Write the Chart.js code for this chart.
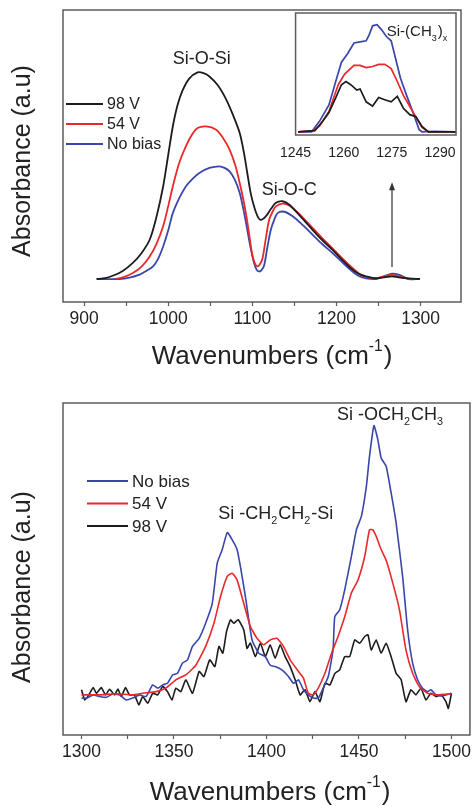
<!DOCTYPE html>
<html>
  <head>
    <title>FTIR spectra</title>
    <script src="https://cdn.jsdelivr.net/npm/chart.js"></script>
    <style>
      body { margin: 0; background: #fff; }
      #wrap { position: relative; width: 474px; height: 806px; }
      canvas { position: absolute; }
    </style>
  </head>
  <body>
    <div id="wrap">
      <canvas id="topChart" width="474" height="380" style="left:0;top:0"></canvas>
      <canvas id="insetChart" width="200" height="170" style="left:270px;top:0"></canvas>
      <canvas id="bottomChart" width="474" height="416" style="left:0;top:390px"></canvas>
    </div>

    <script>
      // ---- data: [wavenumber, absorbance (a.u)] ----
      const seriesNames = ["98 V", "54 V", "No bias"];
      const seriesColors = ["#1c1c1c", "#e8292b", "#3a46ab"];

      // top panel, 900-1300 cm-1
      const top98V = [[915,0],[925,0.003],[934,0.012],[946,0.03],[958,0.06],[968,0.095],[978,0.146],[986,0.23],[994,0.344],[1000,0.46],[1005.5,0.567],[1011,0.645],[1017,0.7],[1025,0.745],[1035,0.768],[1042,0.765],[1049,0.753],[1059,0.72],[1069,0.667],[1077,0.61],[1085,0.543],[1090,0.47],[1094,0.394],[1098,0.32],[1102,0.27],[1106,0.235],[1110,0.22],[1116,0.233],[1122,0.26],[1128,0.283],[1136,0.289],[1144,0.276],[1158,0.23],[1171.5,0.183],[1183,0.145],[1195,0.109],[1207,0.07],[1219,0.035],[1228,0.017],[1235,0.01],[1247,0.0025],[1258,0.007],[1266,0.01],[1274,0.006],[1286,0.002],[1299,0]];
      const top54V = [[938,0],[948,0.008],[958,0.022],[968,0.045],[978,0.084],[986,0.13],[994,0.196],[1000,0.27],[1005.5,0.344],[1013,0.43],[1021,0.493],[1028,0.535],[1035,0.561],[1045,0.567],[1057,0.555],[1065,0.525],[1073,0.481],[1080,0.42],[1085,0.357],[1089,0.3],[1093,0.233],[1097,0.15],[1100,0.09],[1103,0.058],[1106,0.047],[1109,0.055],[1112,0.075],[1116,0.15],[1120,0.22],[1124,0.25],[1128,0.27],[1136,0.28],[1144,0.273],[1158,0.235],[1171.5,0.19],[1183,0.152],[1195,0.115],[1207,0.077],[1219,0.041],[1226,0.022],[1231,0.012],[1247,0.003],[1258,0.012],[1266,0.015],[1274,0.01],[1286,0],[1299,0]];
      const topNoBias = [[915,0],[942,0],[954,0.005],[966,0.016],[974,0.03],[982,0.047],[988,0.075],[994,0.121],[1000,0.18],[1005.5,0.245],[1013,0.3],[1021,0.344],[1029,0.372],[1037,0.394],[1049,0.413],[1061,0.419],[1067,0.413],[1073,0.4],[1079,0.37],[1085,0.32],[1090,0.25],[1094,0.183],[1098,0.115],[1102,0.06],[1105,0.035],[1108,0.028],[1111,0.033],[1114,0.05],[1118,0.12],[1122,0.183],[1126,0.22],[1130,0.245],[1138,0.25],[1148,0.233],[1160,0.2],[1171.5,0.165],[1183,0.13],[1195,0.097],[1207,0.062],[1219,0.028],[1227,0.01],[1235,0.002],[1247,0],[1258,0.012],[1266,0.02],[1274,0.016],[1286,0],[1299,0]];
      const topTicks = [900, 950, 1000, 1050, 1100, 1150, 1200, 1250, 1300];

      // inset, Si-(CH3)x band
      const inset98V = [[1245.8,0],[1251,0.01],[1253.5,0.1],[1255.4,0.18],[1257.4,0.31],[1259.3,0.44],[1260.7,0.47],[1262.2,0.44],[1264.1,0.39],[1265.1,0.4],[1267,0.28],[1269,0.24],[1270.9,0.32],[1272.8,0.3],[1274.8,0.28],[1276.7,0.33],[1278.6,0.22],[1280.6,0.16],[1282.5,0.14],[1284.4,0.05],[1286.4,0],[1294.9,0]];
      const inset54V = [[1245.8,0],[1250.6,0.01],[1252.5,0.055],[1255.4,0.19],[1258.3,0.44],[1260.3,0.54],[1263.2,0.62],[1265.1,0.62],[1267,0.6],[1269,0.61],[1270.9,0.63],[1272.8,0.63],[1274.8,0.59],[1276.7,0.47],[1278.6,0.34],[1281.5,0.19],[1284.4,0.04],[1286.4,0],[1294.9,0]];
      const insetNoBias = [[1245.8,0],[1250,0],[1252.5,0.1],[1255.4,0.25],[1257.9,0.51],[1259.3,0.65],[1261.2,0.73],[1263.2,0.83],[1265.1,0.84],[1267,0.85],[1268,0.91],[1269,0.99],[1270.4,1],[1271.9,0.95],[1273.3,0.89],[1274.8,0.85],[1276.2,0.68],[1277.7,0.5],[1279.6,0.34],[1281.5,0.19],[1283.5,0.02],[1284.4,0],[1288.3,0.005],[1294.9,0]];
      const insetTicks = [1245, 1260, 1275, 1290];

      // bottom panel, 1300-1500 cm-1
      const bottomNoBias = [[1300,-0.012],[1302.7,-0.012],[1306.3,0],[1309.8,-0.006],[1313.4,-0.009],[1317,0.004],[1320.6,0],[1324.2,-0.019],[1327.7,-0.012],[1331.3,0],[1334.9,-0.006],[1338.5,0.037],[1341.2,0.025],[1343.9,0.037],[1346.5,0.043],[1349.2,0.074],[1351.9,0.08],[1354.6,0.118],[1357.3,0.13],[1360,0.18],[1363.6,0.21],[1367.1,0.266],[1370.7,0.34],[1373.4,0.49],[1376.1,0.54],[1378.8,0.603],[1381.5,0.576],[1384.1,0.54],[1385.9,0.477],[1388.6,0.366],[1392.2,0.204],[1395.8,0.155],[1399.4,0.142],[1402,0.11],[1404.7,0.105],[1408.3,0.093],[1411.9,0.068],[1414.6,0.043],[1417.3,0.056],[1420,0.019],[1422.6,0],[1425.3,-0.012],[1428,-0.012],[1430.7,0.025],[1433.4,0.068],[1436,0.167],[1436.9,0.29],[1439.6,0.316],[1442.3,0.39],[1445.9,0.514],[1448.6,0.613],[1451.3,0.663],[1454,0.774],[1455.7,0.886],[1458.1,1],[1460.2,0.948],[1462,0.88],[1464.7,0.849],[1467.4,0.75],[1470.1,0.638],[1473.6,0.44],[1476.3,0.242],[1479,0.118],[1481.7,0.056],[1484.4,0.025],[1487.1,0.012],[1488.9,0.019],[1491.6,0],[1494.3,-0.004],[1497,0],[1500,0.006]];
      const bottom54V = [[1300,0],[1309.8,0],[1318.8,0.004],[1327.7,0],[1333.1,0.006],[1340.3,0.012],[1345.6,0.025],[1351,0.056],[1356.4,0.074],[1361.8,0.11],[1367.1,0.18],[1371.6,0.266],[1375.2,0.366],[1378.8,0.44],[1381.5,0.452],[1384.1,0.427],[1387.7,0.34],[1391.3,0.254],[1394.9,0.21],[1398.5,0.186],[1402,0.204],[1405.6,0.21],[1409.2,0.18],[1412.8,0.13],[1417.3,0.087],[1420,0.062],[1422.6,0.006],[1425.3,0],[1428,0.025],[1431.6,0.08],[1435.2,0.155],[1438.7,0.217],[1442.3,0.29],[1445.9,0.378],[1449.5,0.427],[1453.1,0.514],[1455.7,0.613],[1457.5,0.613],[1459.3,0.589],[1462,0.54],[1464.7,0.5],[1468.3,0.415],[1471.9,0.316],[1475.4,0.167],[1479,0.08],[1482.6,0.031],[1487.1,0.006],[1492.5,0],[1500,0.004]];
      const bottom98V = [[1300,0.019],[1301.8,-0.019],[1304,0],[1306.3,0.027],[1308.1,0.006],[1310.7,0.027],[1313,0],[1315.2,0.021],[1317.9,0],[1319.7,0.022],[1321.5,-0.006],[1323.8,0.027],[1325.9,0],[1328.6,0],[1331,-0.037],[1333.1,-0.006],[1335.8,-0.031],[1338.5,0.006],[1341.2,0],[1343.9,0.031],[1346.5,0.012],[1348.9,-0.019],[1351,0.025],[1353.7,0.012],[1356.4,0.056],[1360,0.006],[1363.6,0.087],[1366.2,0.068],[1369.3,0.13],[1372.1,0.105],[1374.3,0.18],[1376.4,0.155],[1378.4,0.235],[1380.6,0.279],[1382.3,0.266],[1384.7,0.279],[1387.7,0.242],[1389.5,0.173],[1391.3,0.192],[1394,0.142],[1396.7,0.192],[1399.4,0.142],[1402,0.186],[1404.7,0.136],[1407.4,0.186],[1410.1,0.142],[1412.8,0.105],[1415.5,0.056],[1418.2,0],[1420.8,0.019],[1423.5,-0.025],[1426.2,0.012],[1428.9,-0.025],[1431.6,0.043],[1434.3,0.037],[1437,0.08],[1439.6,0.093],[1442.3,0.142],[1445,0.142],[1447.7,0.204],[1450.4,0.192],[1453.1,0.217],[1454.9,0.223],[1456.6,0.167],[1459.3,0.204],[1462,0.155],[1464.7,0.192],[1467.4,0.142],[1470.1,0.08],[1472.8,0.056],[1475.4,-0.025],[1478.1,0.019],[1480.8,0],[1483.5,0.025],[1486.2,-0.019],[1488.9,0.006],[1491.6,-0.006],[1494.3,0],[1497,-0.025],[1498.3,-0.05],[1500,0.006]];
      const bottomTicks = [1300, 1325, 1350, 1375, 1400, 1425, 1450, 1475, 1500];

      // band labels, placed in data units
      const topNotes = [
        { x: 1040, y: 0.818, text: ["Si-O-Si"] },
        { x: 1144, y: 0.331, text: ["Si-O-C"] },
      ];
      const insetNotes = [{ x: 1283, y: 0.93, text: ["Si-(CH", "_3", ")", "_x"] }];
      const bottomNotes = [
        { x: 1467, y: 1.04, text: ["Si -OCH", "_2", "CH", "_3"] },
        { x: 1405, y: 0.673, text: ["Si -CH", "_2", "CH", "_2", "-Si"] },
      ];
      const arrowAt = { x: 1266, from: 0.045, to: 0.36 };

      const FONT = '"Liberation Sans", Arial, sans-serif';
      const INK = "#222";

      // text with _sub / ^sup pieces, centred on (cx, cy)
      function richText(ctx, parts, cx, cy, size) {
        const pieces = parts.map((p) => {
          const kind = p[0] === "_" ? 1 : p[0] === "^" ? -1 : 0;
          const t = kind ? p.slice(1) : p;
          const s = kind ? size * 0.6 : size;
          ctx.font = s + "px " + FONT;
          return { t, s, kind, w: ctx.measureText(t).width + (kind ? 1 : 0) };
        });
        let x = cx - pieces.reduce((a, p) => a + p.w, 0) / 2;
        ctx.textAlign = "left";
        ctx.textBaseline = "middle";
        pieces.forEach((p) => {
          ctx.font = p.s + "px " + FONT;
          ctx.fillText(p.t, x, cy + p.kind * size * 0.4);
          x += p.w;
        });
      }

      function decor(cfg) {
        return {
          id: "decor",
          beforeDraw(chart) {
            if (!cfg.fill) return;
            const a = chart.chartArea;
            chart.ctx.fillStyle = "#fff";
            chart.ctx.fillRect(a.left, a.top, a.right - a.left, a.bottom - a.top);
          },
          afterDraw(chart) {
            const { ctx, chartArea: a } = chart;
            const x = chart.scales.x, y = chart.scales.y;
            ctx.save();
            ctx.strokeStyle = "#5c5c5c";
            ctx.lineWidth = 1.5;
            ctx.strokeRect(a.left, a.top, a.right - a.left, a.bottom - a.top);
            ctx.fillStyle = INK;
            (cfg.notes || []).forEach((n) =>
              richText(ctx, n.text, x.getPixelForValue(n.x), y.getPixelForValue(n.y), cfg.noteSize)
            );
            if (cfg.legend) {
              const L = cfg.legend;
              L.order.forEach((i, k) => {
                const ly = a.top + L.dy + k * L.gap;
                ctx.strokeStyle = seriesColors[i];
                ctx.lineWidth = 1.8;
                ctx.beginPath();
                ctx.moveTo(a.left + L.dx, ly);
                ctx.lineTo(a.left + L.dx + L.len, ly);
                ctx.stroke();
                ctx.fillStyle = INK;
                ctx.font = L.size + "px " + FONT;
                ctx.textAlign = "left";
                ctx.textBaseline = "middle";
                ctx.fillText(seriesNames[i], a.left + L.dx + L.len + 4, ly + 1);
              });
            }
            if (cfg.arrow) {
              const ax = x.getPixelForValue(cfg.arrow.x);
              const y0 = y.getPixelForValue(cfg.arrow.from);
              const y1 = y.getPixelForValue(cfg.arrow.to);
              ctx.strokeStyle = "#333";
              ctx.fillStyle = "#333";
              ctx.lineWidth = 1.2;
              ctx.beginPath();
              ctx.moveTo(ax, y0);
              ctx.lineTo(ax, y1 + 6);
              ctx.stroke();
              ctx.beginPath();
              ctx.moveTo(ax, y1);
              ctx.lineTo(ax - 3, y1 + 8);
              ctx.lineTo(ax + 3, y1 + 8);
              ctx.closePath();
              ctx.fill();
            }
            if (cfg.titles) {
              const T = cfg.titles;
              ctx.fillStyle = INK;
              richText(ctx, ["Wavenumbers (cm", "^-1", ")"], T.xTitle[0], T.xTitle[1], 26);
              ctx.save();
              ctx.translate(T.yTitle[0], T.yTitle[1]);
              ctx.rotate(-Math.PI / 2);
              richText(ctx, ["Absorbance (a.u)"], 0, 0, 25);
              ctx.restore();
            }
            ctx.restore();
          },
        };
      }

      function lines(sets, width, tension) {
        return sets.map(([data, i]) => ({
          label: seriesNames[i],
          data: data,
          borderColor: seriesColors[i],
          borderWidth: width,
          pointRadius: 0,
          tension: tension,
          fill: false,
        }));
      }

      function xAxis(min, max, tickValues, labelStep, size, pad, height, drawTicks) {
        return {
          type: "linear",
          min: min,
          max: max,
          afterBuildTicks: (s) => { s.ticks = tickValues.map((v) => ({ value: v })); },
          afterFit: (s) => { s.height = height; },
          border: { display: false },
          grid: { drawOnChartArea: false, drawTicks: drawTicks, tickLength: 4, tickColor: "#5c5c5c", tickWidth: 1.2 },
          ticks: {
            autoSkip: false,
            maxRotation: 0,
            padding: pad,
            color: INK,
            font: { family: FONT, size: size },
            callback: (v) => (v % labelStep === 0 ? v : ""),
          },
        };
      }

      Chart.defaults.animation = false;

      new Chart(document.getElementById("topChart"), {
        type: "line",
        data: { datasets: lines([[top98V, 0], [top54V, 1], [topNoBias, 2]], 1.8, 0.3) },
        options: {
          responsive: false,
          layout: { padding: { left: 63, right: 13, top: 10, bottom: 0 } },
          scales: {
            x: xAxis(875, 1348, topTicks, 100, 17.5, 3, 78, true),
            y: { type: "linear", display: false, min: -0.0855, max: 1.0 },
          },
          plugins: { legend: { display: false }, tooltip: { enabled: false } },
        },
        plugins: [
          decor({
            notes: topNotes,
            noteSize: 18,
            arrow: arrowAt,
            legend: { order: [0, 1, 2], dx: 3, dy: 94, gap: 20, len: 37, size: 16 },
            titles: { xTitle: [272, 357], yTitle: [23, 161] },
          }),
        ],
      });

      new Chart(document.getElementById("insetChart"), {
        type: "line",
        data: { datasets: lines([[inset98V, 0], [inset54V, 1], [insetNoBias, 2]], 1.7, 0) },
        options: {
          responsive: false,
          layout: { padding: { left: 14, right: 14, top: 13, bottom: 0 } },
          scales: {
            x: xAxis(1245, 1295, insetTicks, 15, 14, 10, 35, false),
            y: { type: "linear", display: false, min: -0.03, max: 1.11 },
          },
          plugins: { legend: { display: false }, tooltip: { enabled: false } },
        },
        plugins: [decor({ fill: true, notes: insetNotes, noteSize: 15 })],
      });

      new Chart(document.getElementById("bottomChart"), {
        type: "line",
        data: { datasets: lines([[bottom54V, 1], [bottomNoBias, 2], [bottom98V, 0]], 1.6, 0.15) },
        options: {
          responsive: false,
          layout: { padding: { left: 63, right: 2, top: 13, bottom: 0 } },
          scales: {
            x: xAxis(1290, 1510, bottomTicks, 50, 17.5, 3, 71, true),
            y: { type: "linear", display: false, min: -0.149, max: 1.084 },
          },
          plugins: { legend: { display: false }, tooltip: { enabled: false } },
        },
        plugins: [
          decor({
            notes: bottomNotes,
            noteSize: 18,
            legend: { order: [2, 1, 0], dx: 24, dy: 78, gap: 22.5, len: 41, size: 17 },
            titles: { xTitle: [270, 403], yTitle: [23, 197] },
          }),
        ],
      });
    </script>
  </body>
</html>
